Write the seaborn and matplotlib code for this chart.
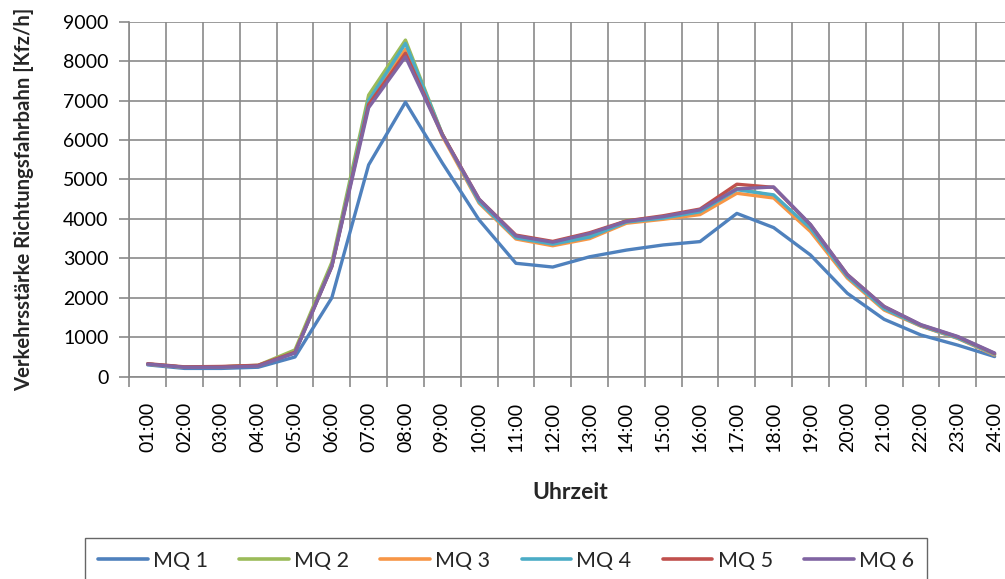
import matplotlib
matplotlib.use("Agg")
import matplotlib.pyplot as plt
import numpy as np
import pandas as pd
import seaborn as sns

# ---- data ----
hours = ["01:00", "02:00", "03:00", "04:00", "05:00", "06:00", "07:00", "08:00",
         "09:00", "10:00", "11:00", "12:00", "13:00", "14:00", "15:00", "16:00",
         "17:00", "18:00", "19:00", "20:00", "21:00", "22:00", "23:00", "24:00"]

mq1 = [300, 210, 210, 240, 500, 2000, 5370, 6960, 5420, 3975, 2875, 2780,
       3040, 3210, 3340, 3425, 4140, 3780, 3085, 2115, 1455, 1057, 800, 510]
mq2 = [320, 240, 250, 290, 680, 2900, 7140, 8535, 6150, 4450, 3540, 3360,
       3560, 3960, 4030, 4210, 4775, 4580, 3750, 2540, 1720, 1290, 980, 570]
mq3 = [320, 240, 250, 280, 620, 2800, 6950, 8300, 6100, 4400, 3490, 3320,
       3500, 3890, 3990, 4110, 4650, 4530, 3680, 2500, 1690, 1280, 970, 550]
mq4 = [320, 240, 250, 280, 620, 2820, 7000, 8450, 6150, 4430, 3520, 3360,
       3540, 3920, 4020, 4180, 4740, 4610, 3760, 2540, 1720, 1290, 980, 570]
mq5 = [330, 250, 260, 290, 620, 2800, 6900, 8200, 6150, 4500, 3590, 3430,
       3650, 3950, 4080, 4250, 4880, 4800, 3850, 2590, 1780, 1310, 1010, 590]
mq6 = [320, 240, 240, 270, 600, 2790, 6820, 8110, 6130, 4500, 3570, 3410,
       3630, 3940, 4060, 4230, 4760, 4810, 3860, 2590, 1780, 1320, 1020, 600]

series_names = ["MQ 1", "MQ 2", "MQ 3", "MQ 4", "MQ 5", "MQ 6"]
series_vals = [mq1, mq2, mq3, mq4, mq5, mq6]
colors = ["#4F81BD", "#9BBB59", "#F79646", "#4BACC6", "#C0504D", "#8064A2"]

df = pd.DataFrame({
    "Uhrzeit": hours * len(series_names),
    "Wert": sum(series_vals, []),
    "MQ": [n for n in series_names for _ in hours],
})

# ---- style ----
sns.set_style("white")
plt.rcParams["font.family"] = ["Lato", "DejaVu Sans"]
gridc = "#8a8a8a"

W, H = 1005, 579
fig = plt.figure(figsize=(W / 100, H / 100), dpi=100)
left, right, top, bottom = 129.3, 1013.0, 21.7, 376.7
ax = fig.add_axes([left / W, 1 - bottom / H, (right - left) / W, (bottom - top) / H])

sns.lineplot(data=df, x="Uhrzeit", y="Wert", hue="MQ", palette=colors,
             linewidth=2.4, sort=False, ax=ax, zorder=3)

ax.set_xlim(-0.5, 23.5)
ax.set_ylim(0, 9000)
ax.set_yticks(np.arange(0, 9001, 1000))
ax.set_xticks(np.arange(len(hours)))
ax.set_xticklabels(hours, rotation=90)
ax.set_xticks(np.arange(-0.5, len(hours), 1), minor=True)

ax.set_axisbelow(True)
ax.grid(which="minor", axis="x", color=gridc, linewidth=1.2)
ax.grid(which="major", axis="y", color=gridc, linewidth=1.2)
ax.grid(which="major", axis="x", visible=False)

ax.tick_params(axis="x", which="major", length=0, pad=18, labelsize=14, labelcolor="black")
ax.tick_params(axis="x", which="minor", length=7, width=1.2, color=gridc, bottom=True)
ax.tick_params(axis="y", which="major", length=7, width=1.2, color=gridc, left=True,
               pad=8, labelsize=14, labelcolor="black")

for s in ["top", "right"]:
    ax.spines[s].set_visible(False)
for s in ["left", "bottom"]:
    ax.spines[s].set_color(gridc)
    ax.spines[s].set_linewidth(1.2)

ax.set_ylabel("Verkehrsstärke Richtungsfahrbahn [Kfz/h]", fontsize=14.6, fontweight="bold")
ax.set_xlabel("Uhrzeit", fontsize=16.5, fontweight="bold")
ax.yaxis.set_label_coords((34 - left) / (right - left), 0.5)
ax.xaxis.set_label_coords((570 - left) / (right - left), -(482 - bottom) / (bottom - top))

handles, labels = ax.get_legend_handles_labels()
ax.get_legend().remove()
leg = fig.legend(handles, labels, loc="upper center", ncol=6,
                 bbox_to_anchor=(506 / W, 1 - 538 / H),
                 frameon=True, fancybox=False, fontsize=15.5,
                 handlelength=2.3, handletextpad=0.25, columnspacing=1.45,
                 borderpad=0.6, borderaxespad=0)
leg.get_frame().set_edgecolor("#404040")
leg.get_frame().set_linewidth(1.0)
for l in leg.get_lines():
    l.set_linewidth(2.6)

fig.savefig("out.png", dpi=100)
